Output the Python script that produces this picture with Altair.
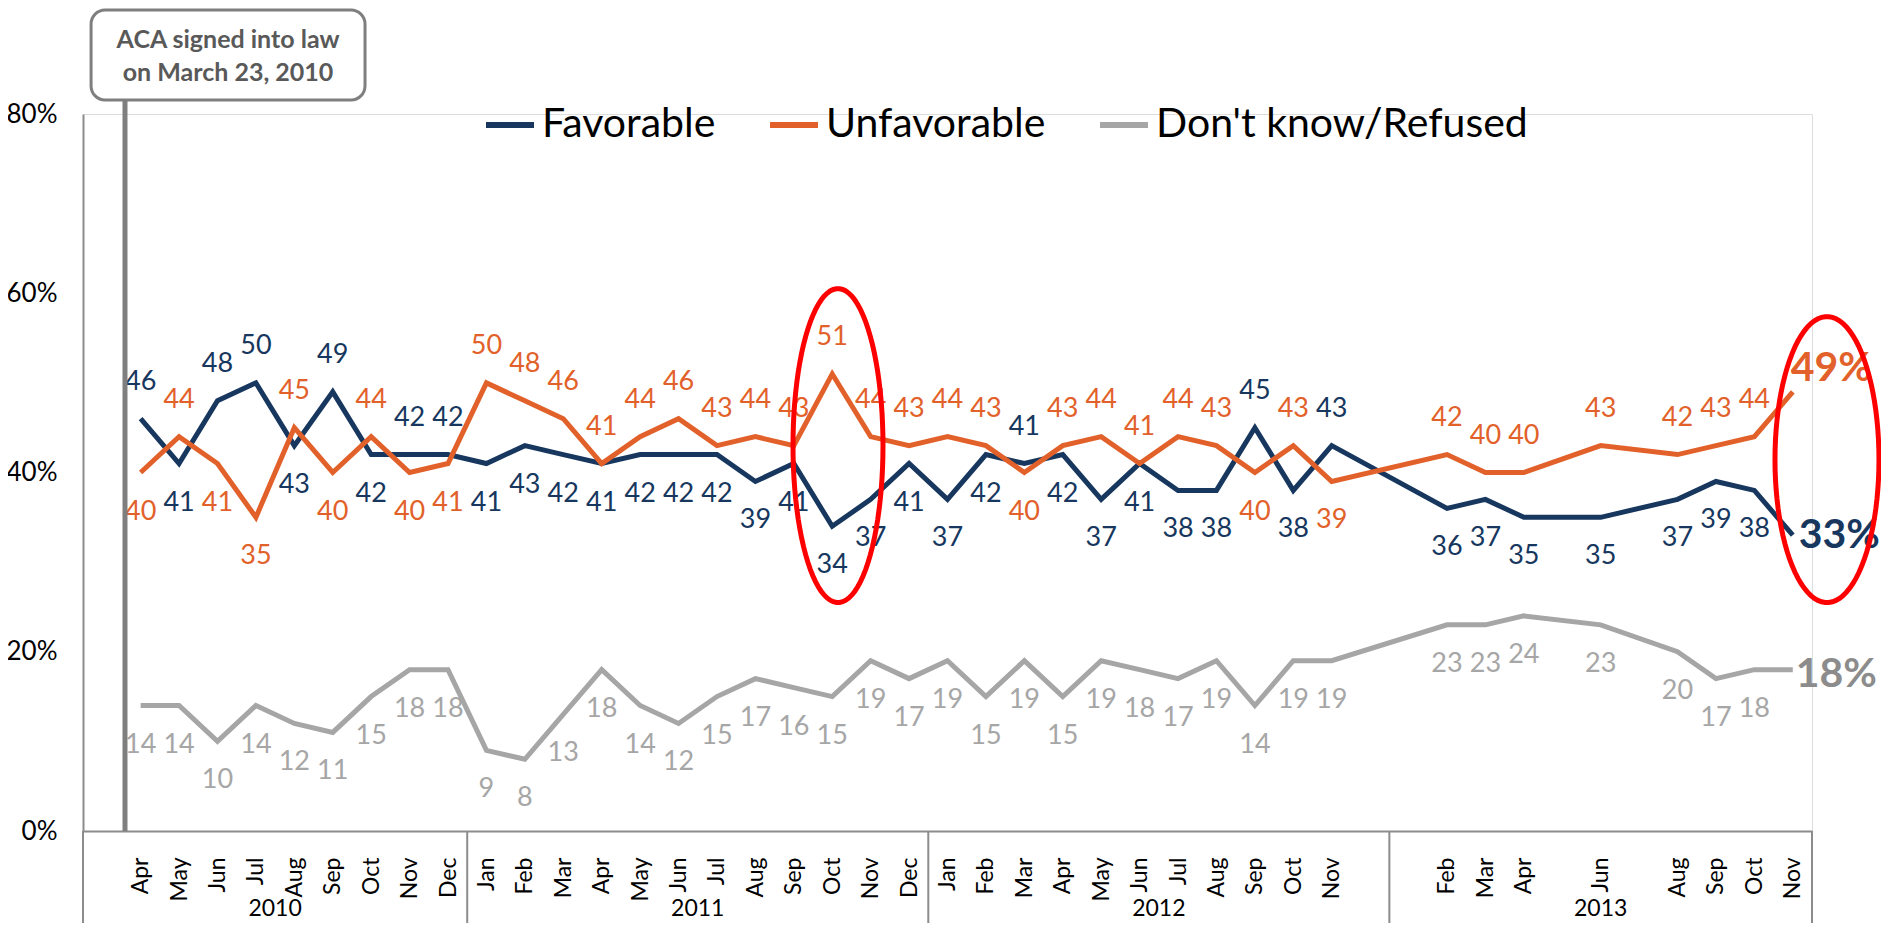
import altair as alt
import pandas as pd
import numpy as np

# ---------------- data ----------------
periods = [
    "2010-04", "2010-05", "2010-06", "2010-07", "2010-08", "2010-09", "2010-10", "2010-11", "2010-12",
    "2011-01", "2011-02", "2011-03", "2011-04", "2011-05", "2011-06", "2011-07", "2011-08", "2011-09",
    "2011-10", "2011-11", "2011-12",
    "2012-01", "2012-02", "2012-03", "2012-04", "2012-05", "2012-06", "2012-07", "2012-08", "2012-09",
    "2012-10", "2012-11",
    "2013-02", "2013-03", "2013-04", "2013-06", "2013-08", "2013-09", "2013-10", "2013-11",
]
favorable = [46, 41, 48, 50, 43, 49, 42, 42, 42,
             41, 43, 42, 41, 42, 42, 42, 39, 41, 34, 37, 41,
             37, 42, 41, 42, 37, 41, 38, 38, 45, 38, 43,
             36, 37, 35, 35, 37, 39, 38, 33]
unfavorable = [40, 44, 41, 35, 45, 40, 44, 40, 41,
               50, 48, 46, 41, 44, 46, 43, 44, 43, 51, 44, 43,
               44, 43, 40, 43, 44, 41, 44, 43, 40, 43, 39,
               42, 40, 40, 43, 42, 43, 44, 49]
dont_know = [14, 14, 10, 14, 12, 11, 15, 18, 18,
             9, 8, 13, 18, 14, 12, 15, 17, 16, 15, 19, 17,
             19, 15, 19, 15, 19, 18, 17, 19, 14, 19, 19,
             23, 23, 24, 23, 20, 17, 18, 18]
# label placement: a = above the point, b = below, e = end label
fav_pos = list("abaababaa" + "bbbbbbbbbbbb" + "bbabbbbbaba" + "bbbbbbb") + ["e"]
unf_pos = list("babbababb" + "aaaaaaaaaaaa" + "aabaaaaabab" + "aaaaaaa") + ["e"]
dk_pos = ["b"] * (len(periods) - 1) + ["e"]

series_names = ["Favorable", "Unfavorable", "Don't know/Refused"]
series_colors = ["#17375E", "#E2612A", "#A6A6A6"]
month_names = ["Jan", "Feb", "Mar", "Apr", "May", "Jun", "Jul", "Aug", "Sep", "Oct", "Nov", "Dec"]
years = ["2010", "2011", "2012", "2013"]

# ---------------- build tables ----------------
def month_index(p):
    y, m = p.split("-")
    return (int(y) - 2010) * 12 + int(m) - 4

idx = [month_index(p) for p in periods]
rows = []
for name, vals, pos in zip(series_names, [favorable, unfavorable, dont_know], [fav_pos, unf_pos, dk_pos]):
    assert len(vals) == len(idx) == len(pos)
    for i, v, ps in zip(idx, vals, pos):
        rows.append({"idx": i, "series": name, "value": v, "pos": ps})
df = pd.DataFrame(rows)

x_lo, x_hi = -1.5, idx[-1] + 0.5
year_edges = [x_lo] + [month_index(f"{y}-01") - 0.5 for y in years[1:]] + [x_hi]
year_df = pd.DataFrame({"year": years,
                        "xc": [(year_edges[k] + year_edges[k + 1]) / 2 for k in range(len(years))]})
edge_df = pd.DataFrame({"edge": year_edges})

W, H = 1729, 717
FONT = "Lato"
month_expr = "[" + ",".join(f"'{m}'" for m in month_names) + "][(datum.value + 3) % 12]"

x_scale = alt.Scale(domain=[x_lo, x_hi], nice=False, zero=False)
y_scale = alt.Scale(domain=[0, 80], nice=False)
color_scale = alt.Scale(domain=series_names, range=series_colors)

x_enc = alt.X("idx:Q", scale=x_scale,
              axis=alt.Axis(values=idx, title=None, grid=False, ticks=False, tickSize=0,
                            labelAngle=270, labelPadding=26, labelFontSize=23, labelFont=FONT,
                            labelColor="black", labelOverlap=False, labelExpr=month_expr,
                            domainColor="#8C8C8C", domainWidth=2))
y_enc = alt.Y("value:Q", scale=y_scale,
              axis=alt.Axis(values=[0, 20, 40, 60, 80], title=None, grid=False, ticks=False, tickSize=0,
                            labelPadding=26, labelFontSize=26, labelFont=FONT, labelColor="black",
                            labelExpr="datum.value + '%'", domainColor="#8C8C8C", domainWidth=2))

base = alt.Chart(df)

lines = base.mark_line(strokeWidth=5, strokeJoin="miter").encode(
    x=x_enc, y=y_enc,
    color=alt.Color("series:N", scale=color_scale,
                    legend=alt.Legend(orient="none", legendX=400, legendY=-16, direction="horizontal",
                                      title=None, symbolType="stroke", symbolSize=2304,
                                      symbolStrokeWidth=6, labelFontSize=41, labelFont=FONT,
                                      labelColor="black", columnPadding=42, labelOffset=5,
                                      labelLimit=600, padding=0)),
)

txt_color = alt.Color("series:N", scale=color_scale, legend=None)
above = base.transform_filter(alt.datum.pos == "a").mark_text(
    dy=-37, fontSize=27, font=FONT, baseline="middle").encode(
    x="idx:Q", y="value:Q", text="value:Q", color=txt_color)
below = base.transform_filter(alt.datum.pos == "b").mark_text(
    dy=39, fontSize=27, font=FONT, baseline="middle").encode(
    x="idx:Q", y="value:Q", text="value:Q", color=txt_color)

end_base = base.transform_filter(alt.datum.pos == "e").transform_calculate(
    lbl="datum.value + '%'")
end_unf = end_base.transform_filter(alt.datum.series == "Unfavorable").mark_text(
    align="left", baseline="middle", dx=-2, dy=-23, fontSize=41, fontWeight="bold", font=FONT).encode(
    x="idx:Q", y="value:Q", text="lbl:N", color=txt_color)
end_fav = end_base.transform_filter(alt.datum.series == "Favorable").mark_text(
    align="left", baseline="middle", dx=6, dy=1, fontSize=41, fontWeight="bold", font=FONT).encode(
    x="idx:Q", y="value:Q", text="lbl:N", color=txt_color)
end_dk = end_base.transform_filter(alt.datum.series == "Don't know/Refused").mark_text(
    align="left", baseline="middle", dx=3, dy=5, fontSize=41, fontWeight="bold", font=FONT,
    color="#8C8C8C").encode(
    x="idx:Q", y="value:Q", text="lbl:N")

# ---------------- x-axis year row ----------------
year_text = alt.Chart(year_df).mark_text(fontSize=23, font=FONT, color="black", baseline="middle").encode(
    x=alt.X("xc:Q"), y=alt.value(H + 78), text="year:N")
year_rules = alt.Chart(edge_df).mark_rule(color="#8C8C8C", strokeWidth=2).encode(
    x=alt.X("edge:Q"), y=alt.value(H), y2=alt.value(H + 100))

# ---------------- annotations ----------------
one = pd.DataFrame({"k": [0]})
law_line = alt.Chart(one).mark_rule(color="#7F7F7F", strokeWidth=5).encode(
    x=alt.datum(-0.407), y=alt.datum(0), y2=alt.datum(81.56))
law_box = alt.Chart(one).mark_rect(cornerRadius=14, fill="white", stroke="#7F7F7F", strokeWidth=3).encode(
    x=alt.datum(-1.29), x2=alt.datum(5.84), y=alt.datum(81.56), y2=alt.datum(91.6))
law_t1 = alt.Chart(one).mark_text(text="ACA signed into law", fontSize=25, fontWeight="bold",
                                  font=FONT, color="#595959", baseline="middle").encode(
    x=alt.datum(2.275), y=alt.datum(88.3))
law_t2 = alt.Chart(one).mark_text(text="on March 23, 2010", fontSize=25, fontWeight="bold",
                                  font=FONT, color="#595959", baseline="middle").encode(
    x=alt.datum(2.275), y=alt.datum(84.56))


def ellipse_path(aspect, n=90):
    t = np.linspace(0, 2 * np.pi, n, endpoint=False)
    pts = [f"{aspect * np.cos(a):.4f},{np.sin(a):.4f}" for a in t]
    return "M" + " L".join(pts) + " Z"


ell1 = alt.Chart(one).mark_point(shape=ellipse_path(45 / 157), size=314 ** 2, filled=False,
                                 stroke="#FF0000", strokeWidth=5, opacity=1).encode(
    x=alt.datum(18.15), y=alt.datum(43.0))
ell2 = alt.Chart(one).mark_point(shape=ellipse_path(52 / 143), size=286 ** 2, filled=False,
                                 stroke="#FF0000", strokeWidth=5, opacity=1).encode(
    x=alt.datum(43.89), y=alt.datum(41.44))

chart = alt.layer(
    lines, above, below, end_unf, end_fav, end_dk,
    year_rules, year_text, law_line, law_box, law_t1, law_t2, ell1, ell2,
).properties(
    width=W, height=H,
    autosize=alt.AutoSizeParams(type="none"),
    padding={"left": 75, "top": 106, "right": 69, "bottom": 92},
).configure_view(stroke=None).configure(font=FONT)

chart.save("out.html", embed_options={"renderer": "svg", "actions": False})
